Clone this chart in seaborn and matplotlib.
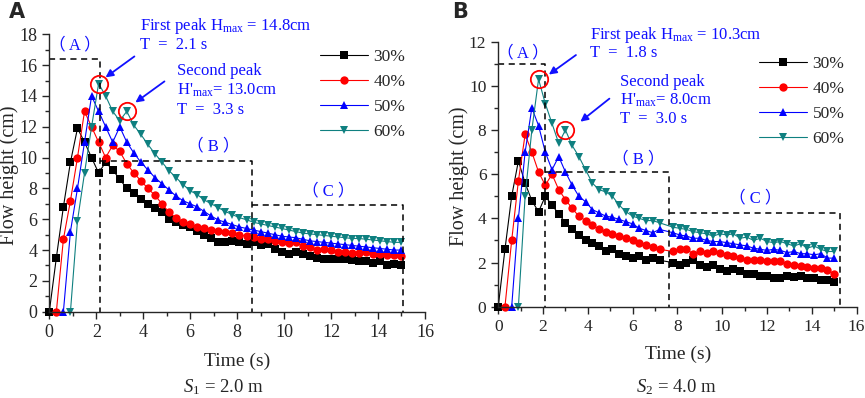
import numpy as np
import pandas as pd
import seaborn as sns
import matplotlib
matplotlib.use('Agg')
import matplotlib.pyplot as plt

time_a = np.round(np.arange(0, 15.05, 0.3), 1)
time_b = time_a[time_a != 7.5]          # no record at 7.5 s in panel B

ratios = ['30%', '40%', '50%', '60%']
colors = ['black', '#ff0000', '#0000ff', '#0f8080']
markers = ['s', 'o', '^', 'v']

# S1 = 2.0 m (each series starts at its first zero, all end at 15.0 s)
a30 = [0, 3.5, 6.8, 9.7, 11.9, 11.0, 10.0, 9.0, 9.7, 9.2,
       8.6, 8.0, 7.7, 7.3, 7.0, 6.7, 6.5, 6.0, 5.8, 5.6,
       5.5, 5.25, 5.0, 4.8, 4.55, 4.5, 4.6, 4.5, 4.4, 4.5,
       4.3, 4.4, 4.1, 3.9, 3.75, 3.9, 3.75, 3.6, 3.5, 3.4,
       3.45, 3.45, 3.4, 3.35, 3.3, 3.3, 3.15, 3.3, 3.05, 3.1,
       3.0]
a40 = [0, 4.7, 7.2, 10.0, 13.0, 12.0, 11.0, 10.0, 10.8,
       10.4, 9.6, 9.0, 8.5, 8.0, 7.55, 7.0, 6.45, 6.1, 5.85,
       5.7, 5.5, 5.4, 5.3, 5.25, 5.2, 5.1, 5.0, 4.9, 4.85,
       4.75, 4.7, 4.6, 4.5, 4.45, 4.5, 4.25, 4.2, 4.0, 4.1,
       4.0, 3.9, 3.9, 3.8, 3.8, 3.85, 3.75, 3.75, 3.65, 3.65,
       3.6]
a50 = [0, 5.2, 8.0, 11.0, 14.0, 13.0, 12.0, 11.0,
       12.0, 11.0, 10.3, 9.7, 9.2, 8.7, 8.3, 7.9, 7.5, 7.2,
       7.0, 6.8, 6.5, 6.2, 5.95, 5.8, 5.65, 5.5, 5.4, 5.3,
       5.2, 5.1, 5.0, 4.9, 4.85, 4.8, 4.7, 4.6, 4.55, 4.5,
       4.45, 4.4, 4.35, 4.3, 4.25, 4.2, 4.15, 4.1, 4.05, 4.0,
       4.0]
a60 = [0, 5.9, 9.0, 12.0, 14.8, 14.0, 13.0,
       12.4, 13.0, 12.1, 11.5, 10.85, 10.25, 9.7, 9.15, 8.7, 8.25,
       7.85, 7.6, 7.25, 7.0, 6.75, 6.5, 6.3, 6.1, 5.97, 5.8,
       5.7, 5.6, 5.5, 5.4, 5.3, 5.2, 5.1, 5.05, 5.0, 4.95,
       4.9, 4.85, 4.8, 4.75, 4.75, 4.7, 4.65, 4.6, 4.55, 4.5,
       4.5]

# S2 = 4.0 m
b30 = [0, 2.6, 5.0, 6.6, 5.6, 4.8, 4.3, 5.0, 4.6, 4.2,
       3.8, 3.5, 3.25, 3.0, 2.9, 2.75, 2.5, 2.6, 2.4, 2.3,
       2.2, 2.3, 2.1, 2.2, 2.1, 2.0, 1.9, 2.0, 2.1,
       1.9, 1.8, 1.9, 1.7, 1.6, 1.7, 1.6, 1.5, 1.5, 1.4,
       1.4, 1.3, 1.3, 1.4, 1.35, 1.4, 1.3, 1.3, 1.2, 1.2,
       1.1]
b40 = [0, 3.0, 5.7, 7.8, 7.0, 6.1, 5.5, 6.0, 5.3,
       4.85, 4.45, 4.1, 3.9, 3.7, 3.5, 3.4, 3.3, 3.2, 3.1,
       3.0, 2.9, 2.8, 2.7, 2.6, 2.5, 2.6, 2.6, 2.4,
       2.5, 2.45, 2.5, 2.45, 2.35, 2.3, 2.2, 2.1, 2.1, 2.1,
       2.05, 2.05, 2.05, 1.95, 1.9, 1.85, 1.8, 1.75, 1.75, 1.65,
       1.5]
b50 = [0, 4.0, 7.0, 9.0, 8.2, 7.0, 6.2, 6.8,
       6.1, 5.5, 5.0, 4.75, 4.4, 4.25, 4.1, 4.05, 3.95, 3.85,
       3.75, 3.55, 3.45, 3.35, 3.5, 3.35, 3.25, 3.2, 3.1,
       3.1, 3.0, 2.95, 2.95, 2.9, 2.85, 2.8, 2.75, 2.65, 2.6,
       2.55, 2.6, 2.55, 2.45, 2.5, 2.4, 2.4, 2.35, 2.4, 2.2,
       2.2]
b60 = [0, 5.0, 8.0, 10.3, 9.2, 8.3, 7.4,
       8.0, 7.3, 6.8, 6.2, 5.6, 5.3, 5.2, 5.0, 4.6, 4.3,
       4.1, 4.0, 3.9, 3.9, 3.8, 3.6, 3.55, 3.5, 3.4,
       3.35, 3.3, 3.2, 3.3, 3.25, 3.3, 3.1, 3.15, 3.0, 3.1,
       2.95, 2.9, 2.95, 2.85, 2.75, 2.85, 2.65, 2.75, 2.6, 2.5,
       2.5]

# zone boundaries (start, end, top height) for the dashed boxes
zones_a = [(0, 2.16, 16.4), (2.16, 8.65, 9.8), (8.65, 15.05, 6.93)]
zones_b = [(0, 2.08, 11.0), (2.08, 7.63, 6.08), (7.63, 15.28, 4.25)]

peaks_a = [(2.1, 14.8), (3.3, 13.0)]
peaks_b = [(1.8, 10.3), (3.0, 8.0)]


def make_frame(time, series):
    parts = []
    for label, vals in zip(ratios, series):
        parts.append(pd.DataFrame({'Time': time[-len(vals):], 'Height': vals, 'Ratio': label}))
    return pd.concat(parts, ignore_index=True)


df_a = make_frame(time_a, [a30, a40, a50, a60])
df_b = make_frame(time_b, [b30, b40, b50, b60])

sns.set_style('ticks')
plt.rcParams['font.family'] = ['Liberation Serif', 'Noto Sans CJK SC', 'DejaVu Sans']
plt.rcParams['mathtext.fontset'] = 'custom'
plt.rcParams['mathtext.rm'] = 'Liberation Serif'
plt.rcParams['mathtext.it'] = 'Liberation Serif:italic'
plt.rcParams['axes.linewidth'] = 1.0

fig = plt.figure(figsize=(8.65, 3.98), dpi=100)
ax_a = fig.add_axes([0.057, 0.2168, 0.4343, 0.697])
ax_b = fig.add_axes([0.576, 0.2294, 0.4143, 0.6658])

blue = '#1010ff'


def draw_panel(ax, df, ymax, zones, peaks, texts, fs, leg_anchor):
    sns.lineplot(data=df, x='Time', y='Height', hue='Ratio', style='Ratio',
                 markers=markers, dashes=False, palette=colors, estimator=None,
                 sort=False, linewidth=0.8, markersize=6, markeredgewidth=0,
                 clip_on=False, ax=ax)
    handles, labels = ax.get_legend_handles_labels()
    ax.legend(handles, labels, loc='upper left', bbox_to_anchor=leg_anchor,
              frameon=False, fontsize=12.5, handlelength=2.8, handletextpad=0.3,
              labelspacing=0.5, borderpad=0, borderaxespad=0)

    # dashed zone boxes
    for x0, x1, h in zones:
        ax.plot([x0, x1, x1], [h, h, 0], color='black', lw=1.1, ls=(0, (4, 3)), clip_on=False)

    # red circles around the two peaks
    for t, h in peaks:
        ax.plot(t, h, marker='o', ms=12.5, mfc='none', mec='#ff0000', mew=1.3, clip_on=False)

    for kind, args in texts:
        if kind == 'text':
            x, y, s = args
            ax.text(x, y, s, color=blue, fontsize=12, ha='left', va='center', clip_on=False)
        elif kind == 'zone':
            x, y, s = args
            ax.text(x, y, s, color=blue, fontsize=12, ha='center', va='center')
        else:
            (x0, y0), (x1, y1) = args
            ax.annotate('', xy=(x1, y1), xytext=(x0, y0), annotation_clip=False,
                        arrowprops=dict(arrowstyle='-|>', color=blue, lw=1.3, mutation_scale=11))

    ax.set_xlim(0, 16)
    ax.set_ylim(0, ymax)
    ax.set_xticks(range(0, 17, 2))
    ax.set_xticks(range(1, 16, 2), minor=True)
    ax.set_yticks(range(0, ymax + 1, 2))
    ax.set_yticks(range(1, ymax, 2), minor=True)
    ax.tick_params(which='major', length=5, width=1, labelsize=fs, direction='out')
    ax.tick_params(which='minor', length=3, width=1, direction='out')
    ax.set_xlabel('')
    ax.set_ylabel('')
    sns.despine(ax=ax)


draw_panel(ax_a, df_a, 18, zones_a, peaks_a, [
    ('text', (3.85, 18.55, 'First peak H$_{\\mathrm{max}}$ = 14.8cm')),
    ('text', (3.85, 17.3, 'T  =  2.1 s')),
    ('text', (5.45, 15.6, 'Second peak')),
    ('text', (5.45, 14.35, "H'$_{\\mathrm{max}}$= 13.0cm")),
    ('text', (5.45, 13.1, 'T  =  3.3 s')),
    ('zone', (1.1, 17.3, '（ A ）')),
    ('zone', (6.98, 10.7, '（ B ）')),
    ('zone', (11.87, 7.8, '（ C ）')),
    ('arrow', ((3.72, 16.67), (2.3, 15.1))),
    ('arrow', ((5.0, 15.05), (3.57, 13.47))),
], 13, (0.72, 0.947))

draw_panel(ax_b, df_b, 12, zones_b, peaks_b, [
    ('text', (4.1, 12.3, 'First peak H$_{\\mathrm{max}}$ = 10.3cm')),
    ('text', (4.1, 11.47, 'T  =  1.8 s')),
    ('text', (5.45, 10.18, 'Second peak')),
    ('text', (5.45, 9.35, "H'$_{\\mathrm{max}}$= 8.0cm")),
    ('text', (5.45, 8.52, 'T  =  3.0 s')),
    ('zone', (1.12, 11.47, '（ A ）')),
    ('zone', (6.25, 6.67, '（ B ）')),
    ('zone', (11.46, 4.9, '（ C ）')),
    ('arrow', ((3.57, 11.47), (2.16, 10.44))),
    ('arrow', ((5.06, 9.5), (3.57, 8.3))),
], 12.5, (0.727, 0.946))

W, H = 865, 398
fig.text(17 / W, 1 - 12 / H, 'A', family='DejaVu Sans', weight='bold', fontsize=15, ha='center', va='center')
fig.text(460 / W, 1 - 12 / H, 'B', family='DejaVu Sans', weight='bold', fontsize=15, ha='center', va='center')

fig.text(9 / W, 1 - 175 / H, 'Flow height (cm)', rotation=90, fontsize=14.5, ha='center', va='center')
fig.text(459 / W, 1 - 176 / H, 'Flow height (cm)', rotation=90, fontsize=14.5, ha='center', va='center')

fig.text(236.7 / W, 1 - 361 / H, 'Time (s)', fontsize=14, ha='center', va='center')
fig.text(678.3 / W, 1 - 354 / H, 'Time (s)', fontsize=14, ha='center', va='center')

fig.text(223.3 / W, 1 - 387 / H, '$\\mathit{S}_{\\mathit{1}}$ = 2.0 m', fontsize=13.5, ha='center', va='center')
fig.text(676.7 / W, 1 - 387 / H, '$\\mathit{S}_{\\mathit{2}}$ = 4.0 m', fontsize=13.5, ha='center', va='center')

fig.savefig('out.png', dpi=100)
